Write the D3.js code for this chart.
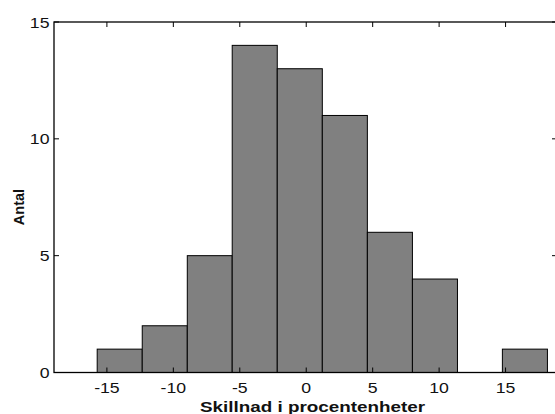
<!DOCTYPE html>
<html><head><meta charset="utf-8">
<script src="https://cdn.jsdelivr.net/npm/d3@7"></script>
<style>body{margin:0;background:#fff}svg{display:block}text{font-family:Arial,"Liberation Sans",sans-serif}</style>
</head><body>
<script>
const binEdges = [-15.73, -12.34, -8.95, -5.57, -2.18, 1.21, 4.60, 7.99, 11.38, 14.76, 18.15];
const counts = [1, 2, 5, 14, 13, 11, 6, 4, 0, 1];
const xTicks = [-15, -10, -5, 0, 5, 10, 15];
const yTicks = [0, 5, 10, 15];
const xLabel = "Skillnad i procentenheter";
const yLabel = "Antal";

(function () {
const W = 555, H = 414;
const svg = d3.select("body").append("svg").attr("width", W).attr("height", H);
const pL = 54, pR = 557, pT = 22, pB = 372.5;
const x = d3.scaleLinear().domain([-18.98, 18.87]).range([pL, pR]);
const y = d3.scaleLinear().domain([0, 15]).range([pB, pT]);

const bins = counts.map((c, i) => ({x0: binEdges[i], x1: binEdges[i+1], c}));
svg.append("g").selectAll("rect").data(bins).join("rect")
  .attr("x", d => x(d.x0)).attr("width", d => x(d.x1) - x(d.x0))
  .attr("y", d => y(d.c)).attr("height", d => y(0) - y(d.c))
  .attr("fill", "#808080").attr("stroke", "#000").attr("stroke-width", 1);

svg.append("rect").attr("x", pL).attr("y", pT).attr("width", pR-pL).attr("height", pB-pT)
  .attr("fill", "none").attr("stroke", "#000").attr("stroke-width", 1.3);

const tl = 5;
const g = svg.append("g").attr("stroke", "#000").attr("stroke-width", 1);
xTicks.forEach(t => {
  g.append("line").attr("x1", x(t)).attr("x2", x(t)).attr("y1", pB).attr("y2", pB - tl);
  g.append("line").attr("x1", x(t)).attr("x2", x(t)).attr("y1", pT).attr("y2", pT + tl);
});
yTicks.forEach(t => {
  g.append("line").attr("x1", pL).attr("x2", pL + tl).attr("y1", y(t)).attr("y2", y(t));
  g.append("line").attr("x1", pR).attr("x2", pR - tl).attr("y1", y(t)).attr("y2", y(t));
});

const sx = 1.22;
svg.append("g").selectAll("text").data(xTicks).join("text")
  .attr("transform", d => `translate(${x(d)},392.5) scale(${sx},1)`).attr("text-anchor", "middle")
  .attr("font-size", 14.5).attr("fill", "#111").text(d => d);
svg.append("g").selectAll("text").data(yTicks).join("text")
  .attr("transform", d => `translate(49.5,${y(d) + 5.5}) scale(${sx},1)`).attr("text-anchor", "end")
  .attr("font-size", 14.5).attr("fill", "#111").text(d => d);

svg.append("text").attr("x", 200).attr("y", 411.5)
  .attr("textLength", 225).attr("lengthAdjust", "spacingAndGlyphs")
  .attr("font-size", 14.5).attr("font-weight", "bold").attr("fill", "#111").text(xLabel);
svg.append("text").attr("transform", "translate(23.5,207) rotate(-90)").attr("text-anchor", "middle")
  .attr("font-size", 14.5).attr("font-weight", "bold").attr("fill", "#111").text(yLabel);
})();
</script>
</body></html>
